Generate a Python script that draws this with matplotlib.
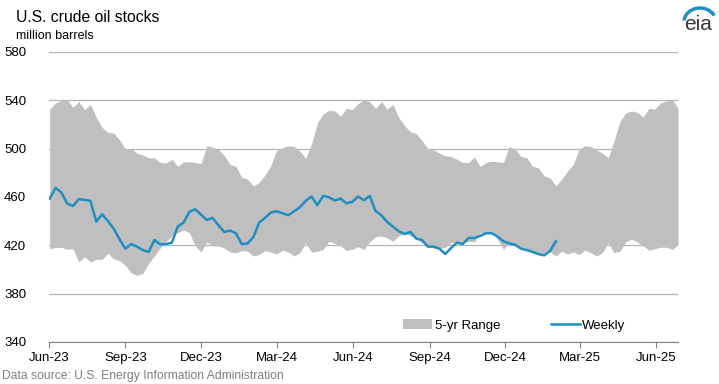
import pandas as pd
import matplotlib
matplotlib.use("Agg")
import matplotlib.pyplot as plt
import matplotlib.dates as mdates
from matplotlib.patches import Arc

plt.rcParams['font.family'] = ['Liberation Sans', 'DejaVu Sans']

# 5-yr range (million barrels), weekly from early Jun 2023
range_high = [532.8, 537.8, 540, 540.5, 534.2, 538.9, 532.3, 536.7, 525.9, 517.6,
              513.5, 512.9, 507.4, 499.6, 500.2, 496.3, 494.7, 492.4, 492.4, 488.6,
              488, 491.3, 485.3, 489.1, 489.1, 488.6, 487.5, 502.4, 501.3, 499.6,
              494.1, 487, 485.3, 476.4, 474.8, 469.2, 472, 478.1, 485.8, 498.5,
              500.7, 502.4, 501.8, 498, 491.9, 504.1, 521.2, 528.7, 531.7, 531.2,
              526.7, 533.4, 532.3, 537.2,
              540.5, 538.9, 533.4, 538.9, 532.8, 536.7, 525.9, 519, 514, 512.4,
              506.8, 500.2, 499, 496.3, 494.1, 493.6, 491.3, 488.6, 488.6, 493,
              485.3, 488.6, 489.7, 489.1, 488.6, 501.8, 499.6, 493.6, 492.4, 485.3,
              484.2, 477.5, 475.9, 469.2, 474.8, 481.4, 486.9, 499.6, 502.4, 501.8,
              499, 496.3, 492.4, 506.3, 522.3, 529.5, 531.2, 530.1, 526.2, 533.4,
              532.8, 537.8, 539.4, 540.5, 533.4]
range_low = [417.2, 418.1, 418.4, 416.7, 417.2, 406.2, 410.6, 406.2, 408.4, 408.4,
             413.4, 408.9, 407.3, 403.4, 397.3, 395.1, 396.8, 405.1, 411.2, 417.8,
             423.3, 427.8, 430.5, 432.7, 430.5, 419.5, 414.5, 422.8, 419.5, 419.5,
             417.8, 414.5, 413.9, 415.6, 415.1, 411.2, 412.3, 415.6, 414.5, 412.8,
             416.1, 414.5, 411.2, 413.9, 422.2, 414.5, 415.1, 416.7, 423.3, 421.6,
             419.5, 415.6, 416.7, 418.9,
             416.7, 422.8, 427.2, 427.8, 426.1, 423.3, 427.8, 430, 427.8, 425,
             422.2, 419.5, 417.8, 417.8, 418.1, 422.2, 422.8, 422.2, 423.3, 422.8,
             430.5, 430.5, 431.6, 425, 416.7, 422.2, 421.6, 417.2, 415.3, 413.9,
             413.4, 413.4, 414.5, 411.2, 415.1, 412.8, 414.5, 412.3, 416.1, 413.9,
             411.2, 413.9, 422.2, 413.9, 415.1, 422.8, 425, 422.8, 419.5, 416.1,
             417.2, 418.4, 418.4, 416.7, 420.5]
weekly = [458.7, 467.6, 463.7, 454.6, 452.6, 458.2, 457.6, 456.8, 439.6, 445.7,
          440.2, 433.8, 425, 417.2, 421.1, 418.9, 416.1, 414.5, 424.4, 420.8,
          421.1, 422.2, 435.5, 438.8, 447.7, 449.9, 445.4, 441, 442.7, 436.6,
          431.1, 432.2, 430, 421.1, 421.6, 426.6, 438.8, 442.7, 447.1, 448.2,
          446.6, 444.9, 448.2, 451.5, 456.8, 460.4, 453.2, 460.9, 459.8, 457.1,
          458.7, 454.8, 456, 460.4,
          457.3, 460.9, 448.5, 444.9, 439.4, 435.5, 431.6, 429.4, 431.1, 425.6,
          424.4, 418.9, 418.9, 417.2, 412.8, 417.8, 422.2, 421.1, 426.1, 426.1,
          427.8, 430, 430, 427.2, 423.3, 421.6, 420.5, 417.2, 416.1, 414.5,
          412.8, 411.7, 415.3, 423.3]

dates = pd.date_range("2023-06-02", periods=len(range_high), freq="7D")
tick_dates = pd.date_range("2023-06-01", "2025-06-01", freq="3MS")
yticks = [340, 380, 420, 460, 500, 540, 580]

fig = plt.figure(figsize=(7.19, 3.84), dpi=100)
ax = fig.add_axes([0.068, 0.1094, 0.875, 0.7552])

ax.fill_between(dates, range_low, range_high, color="#bfbfbf", lw=0, label="5-yr Range")
ax.plot(dates[:len(weekly)], weekly, color="#1f8ec2", lw=1.8, label="Weekly")

ax.set_ylim(340, 580)
ax.set_xlim(pd.Timestamp("2023-06-01"), dates[-1])
ax.set_yticks(yticks)
ax.grid(axis="y", color="#b4b4b4", lw=0.9)
ax.set_axisbelow(True)
ax.set_xticks(tick_dates)
ax.xaxis.set_major_formatter(mdates.DateFormatter("%b-%y"))
ax.tick_params(axis="x", direction="out", length=4, color="#808080", labelsize=9.5, pad=3)
ax.tick_params(axis="y", length=0, labelsize=9.5, pad=11)
for lbl in ax.get_yticklabels():
    lbl.set_horizontalalignment("left")
    lbl.set_x(-0.047)
for s in ["top", "right", "left"]:
    ax.spines[s].set_visible(False)
ax.spines["bottom"].set_color("#808080")

ax.legend(loc="lower center", bbox_to_anchor=(0.74, -0.005), ncol=2, frameon=False,
          fontsize=9.5, handlelength=2.2, handletextpad=0.2, columnspacing=3.8)

fig.text(0.022, 0.955, "U.S. crude oil stocks", fontsize=11.3, va="center")
fig.text(0.022, 0.905, "million barrels", fontsize=9, va="center")
fig.text(0.003, 0.022, "Data source: U.S. Energy Information Administration",
         fontsize=8.7, color="#7f7f7f", va="center")

# eia logo
fig.text(0.971, 0.922, "eia", fontsize=15, color="#383838",
         ha="center", va="baseline")
fig.patches.append(Arc((0.9736, 0.9427), 0.0445, 0.0729, theta1=40, theta2=170,
                       transform=fig.transFigure, color="#1f8ec2", lw=2.5))

fig.savefig("out.png", dpi=100)
